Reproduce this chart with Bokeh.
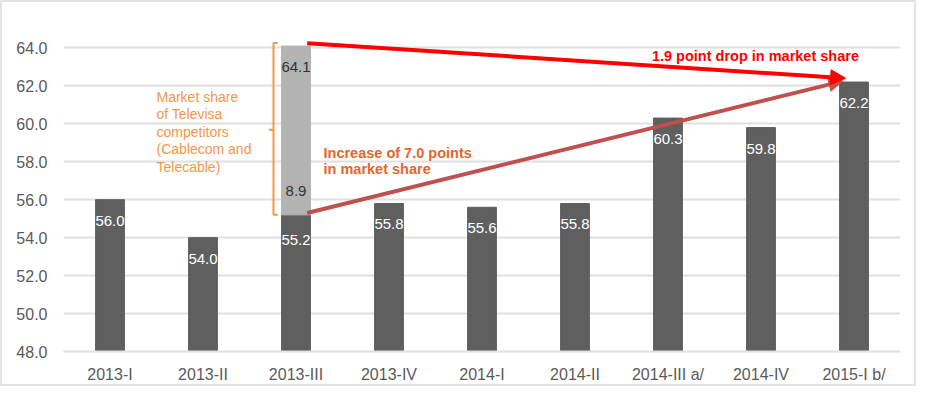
from bokeh.plotting import figure
from bokeh.models import (Range1d, FixedTicker, ColumnDataSource, LabelSet, Label,
                          Arrow, NormalHead)
from bokeh.core.properties import value
from bokeh.embed import file_html
from bokeh.resources import INLINE

# ---- data ----
categories = ["2013-I", "2013-II", "2013-III", "2013-IV", "2014-I", "2014-II",
              "2014-III a/", "2014-IV", "2015-I b/"]
share = [56.0, 54.0, 55.2, 55.8, 55.6, 55.8, 60.3, 59.8, 62.2]
competitor_cat = "2013-III"
competitor_gain = 8.9          # stacked segment on 2013-III
competitor_total = 64.1
y_ticks = [48, 50, 52, 54, 56, 58, 60, 62, 64]

FONT = "Liberation Sans"
DARK = "#5f5f5f"
LIGHT = "#b3b3b3"
GRID = "#e0e0e0"
TXT = "#5a5a5a"

xs = [i + 0.5 for i in range(len(categories))]
ci = categories.index(competitor_cat)

p = figure(width=916, height=386, output_backend="svg", toolbar_location=None,
           x_range=Range1d(0, len(categories)), y_range=Range1d(48, 64.6),
           min_border_left=61, min_border_right=18, min_border_top=34,
           min_border_bottom=37)
p.styles = {"border": "2px solid #e4e4e4"}
p.outline_line_color = None
p.background_fill_color = "white"
p.border_fill_color = "white"

# axes
p.xaxis.ticker = FixedTicker(ticks=xs)
p.xaxis.major_label_overrides = {x: c for x, c in zip(xs, categories)}
p.yaxis.ticker = FixedTicker(ticks=y_ticks)
p.yaxis.major_label_overrides = {t: f"{t:.1f}" for t in y_ticks}
for ax in (p.xaxis, p.yaxis):
    ax.major_tick_line_color = None
    ax.minor_tick_line_color = None
    ax.major_label_text_font = FONT
    ax.major_label_text_font_size = "16px"
    ax.major_label_text_color = TXT
p.xaxis.axis_line_color = GRID
p.xaxis.axis_line_width = 2
p.yaxis.axis_line_color = None
p.xaxis.major_label_standoff = 8
p.yaxis.major_label_standoff = 10
p.xgrid.grid_line_color = None
p.ygrid.grid_line_color = GRID
p.ygrid.grid_line_width = 2

# bars
src = ColumnDataSource(dict(x=xs, top=share, lab=[f"{v:.1f}" for v in share],
                            off=[-25 if i == ci else -21 for i in range(len(xs))]))
p.vbar(x="x", top="top", bottom=48, width=0.31, source=src, color=DARK)
p.vbar(x=[xs[ci]], bottom=[share[ci]], top=[share[ci] + competitor_gain],
       width=0.31, color=LIGHT)

p.add_layout(LabelSet(x="x", y="top", text="lab", y_offset="off", source=src,
                      text_align="center", text_baseline="middle",
                      text_font=value(FONT), text_font_size=value("15px"),
                      text_color=value("white")))
p.add_layout(Label(x=xs[ci], y=competitor_total, text=f"{competitor_total:.1f}",
                   y_offset=-21, text_align="center", text_baseline="middle",
                   text_font=FONT, text_font_size="15px", text_color="#333333"))
p.add_layout(Label(x=xs[ci], y=share[ci], text=f"{competitor_gain:.1f}",
                   y_offset=24, text_align="center", text_baseline="middle",
                   text_font=FONT, text_font_size="15px", text_color="#333333"))

# bracket
ORANGE = "#f79646"
bx = xs[ci] - 0.242
p.line([bx + 0.045, bx, bx, bx + 0.045], [64.26, 64.26, 55.21, 55.21],
       line_color=ORANGE, line_width=2)
p.line([bx - 0.05, bx], [59.68, 59.68], line_color=ORANGE, line_width=2)

note = ["Market share", "of Televisa", "competitors", "(Cablecom and", "Telecable)"]
for k, t in enumerate(note):
    p.add_layout(Label(x=1.0, y=61.42, y_offset=-17.5 * k, text=t,
                       text_align="left", text_baseline="middle",
                       text_font=FONT, text_font_size="14px", text_color=ORANGE))

# arrows
DRED = "#c0504d"
RED = "#ff0000"
p.add_layout(Arrow(x_start=2.62, y_start=55.3, x_end=8.38, y_end=62.25,
                   line_color=DRED, line_width=4,
                   end=NormalHead(size=14, fill_color=DRED, line_color=DRED)))
p.add_layout(Arrow(x_start=2.62, y_start=64.25, x_end=8.41, y_end=62.4,
                   line_color=RED, line_width=4,
                   end=NormalHead(size=15, fill_color=RED, line_color=RED)))

p.add_layout(Label(x=7.44, y=63.58, text="1.9 point drop in market share",
                   text_align="center", text_baseline="middle", text_font=FONT,
                   text_font_style="bold", text_font_size="14.5px", text_color=RED))
inc = ["Increase of 7.0 points", "in market share"]
for k, t in enumerate(inc):
    p.add_layout(Label(x=2.796, y=58.47, y_offset=-16.5 * k, text=t,
                       text_align="left", text_baseline="middle", text_font=FONT,
                       text_font_style="bold", text_font_size="14.5px",
                       text_color="#e8642c"))

open("out.html", "w").write(file_html(p, INLINE))
